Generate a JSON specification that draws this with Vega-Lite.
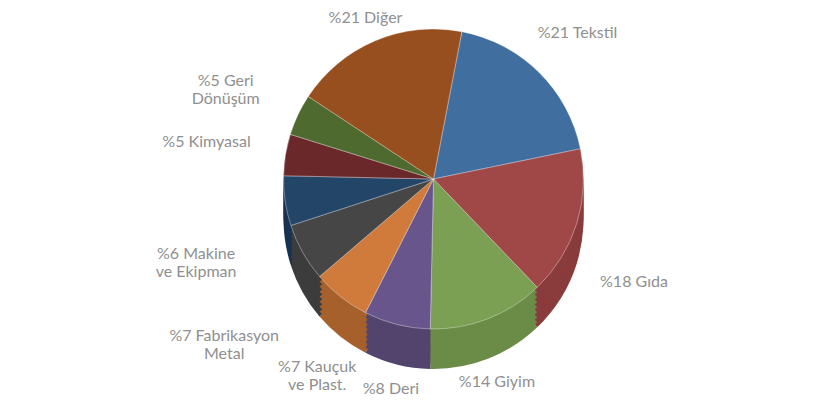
{
  "$schema": "https://vega.github.io/schema/vega-lite/v6.json",
  "width": 833,
  "height": 419,
  "autosize": {"type": "fit", "contains": "padding"},
  "padding": 0,
  "background": "white",
  "view": {"stroke": null},
  "data": {
    "values": [
      {"order": 1, "sektor": "Tekstil", "pay": 21, "label": "%21 Tekstil"},
      {"order": 2, "sektor": "Gıda", "pay": 18, "label": "%18 Gıda"},
      {"order": 3, "sektor": "Giyim", "pay": 14, "label": "%14 Giyim"},
      {"order": 4, "sektor": "Deri", "pay": 8, "label": "%8 Deri"},
      {"order": 5, "sektor": "Kauçuk ve Plast.", "pay": 7, "label": "%7 Kauçuk\nve Plast."},
      {"order": 6, "sektor": "Fabrikasyon Metal", "pay": 7, "label": "%7 Fabrikasyon\nMetal"},
      {"order": 7, "sektor": "Makine ve Ekipman", "pay": 6, "label": "%6 Makine\nve Ekipman"},
      {"order": 8, "sektor": "Kimyasal", "pay": 5, "label": "%5 Kimyasal"},
      {"order": 9, "sektor": "Geri Dönüşüm", "pay": 5, "label": "%5 Geri\nDönüşüm"},
      {"order": 10, "sektor": "Diğer", "pay": 21, "label": "%21 Diğer"}
    ]
  },
  "encoding": {
    "theta": {"field": "pay", "type": "quantitative", "stack": true, "scale": {"domain": [0, 112], "range": [0.19, 6.4732]}},
    "order": {"field": "order", "type": "quantitative"}
  },
  "layer": [
    {
      "layer": [
        {"mark": {"type": "arc", "radius": 150, "xOffset": 17, "yOffset": 5}},
        {"mark": {"type": "arc", "radius": 150, "xOffset": 17, "yOffset": 0}},
        {"mark": {"type": "arc", "radius": 150, "xOffset": 17, "yOffset": -5}},
        {"mark": {"type": "arc", "radius": 150, "xOffset": 17, "yOffset": -10}},
        {"mark": {"type": "arc", "radius": 150, "xOffset": 17, "yOffset": -15}},
        {"mark": {"type": "arc", "radius": 150, "xOffset": 17, "yOffset": -20}},
        {"mark": {"type": "arc", "radius": 150, "xOffset": 17, "yOffset": -25}},
        {"mark": {"type": "arc", "radius": 150, "xOffset": 17, "yOffset": -30}}
      ],
      "encoding": {
        "color": {
          "field": "sektor",
          "type": "nominal",
          "legend": null,
          "scale": {
            "domain": ["Tekstil", "Gıda", "Giyim", "Deri", "Kauçuk ve Plast.", "Fabrikasyon Metal", "Makine ve Ekipman", "Kimyasal", "Geri Dönüşüm", "Diğer"],
            "range": ["#325882", "#8A3B3B", "#6A8C47", "#52446D", "#A5602C", "#3C3C3C", "#183350", "#561F21", "#3F5625", "#7A3F18"]
          }
        }
      }
    },
    {
      "mark": {"type": "arc", "radius": 150, "xOffset": 17, "yOffset": -35, "stroke": "#ffffff", "strokeWidth": 0.6, "strokeOpacity": 0.6},
      "encoding": {
        "color": {
          "field": "sektor",
          "type": "nominal",
          "legend": null,
          "scale": {
            "domain": ["Tekstil", "Gıda", "Giyim", "Deri", "Kauçuk ve Plast.", "Fabrikasyon Metal", "Makine ve Ekipman", "Kimyasal", "Geri Dönüşüm", "Diğer"],
            "range": ["#3F6E9F", "#A04747", "#7BA053", "#67558B", "#D07B3C", "#464646", "#234567", "#6A282A", "#4F6A2F", "#984F1F"]
          }
        }
      }
    },
    {
      "mark": {"type": "text", "radius": 175, "xOffset": 17, "yOffset": -35, "align": "center", "baseline": "middle", "font": "Lato", "fontSize": 16, "lineBreak": "\n", "fill": "#8F8F8F"},
      "encoding": {"text": {"condition": {"test": "datum.sektor === 'Diğer'", "field": "label"}, "value": ""}}
    },
    {
      "mark": {"type": "text", "radius": 175, "xOffset": 17, "yOffset": 5, "align": "center", "baseline": "middle", "font": "Lato", "fontSize": 16, "lineBreak": "\n", "fill": "#8F8F8F"},
      "encoding": {"text": {"condition": {"test": "datum.sektor === 'Giyim' || datum.sektor === 'Deri'", "field": "label"}, "value": ""}}
    },
    {
      "mark": {"type": "text", "radius": 188, "xOffset": 17, "yOffset": 5, "align": "center", "baseline": "middle", "font": "Lato", "fontSize": 16, "lineBreak": "\n", "fill": "#8F8F8F"},
      "encoding": {"text": {"condition": {"test": "datum.sektor === 'Kauçuk ve Plast.'", "field": "label"}, "value": ""}}
    },
    {
      "mark": {"type": "text", "radius": 205, "xOffset": 17, "yOffset": -35, "align": "center", "baseline": "middle", "font": "Lato", "fontSize": 16, "lineBreak": "\n", "fill": "#8F8F8F"},
      "encoding": {"text": {"condition": {"test": "datum.sektor === 'Tekstil'", "field": "label"}, "value": ""}}
    },
    {
      "mark": {"type": "text", "radius": 210, "xOffset": 17, "yOffset": 5, "align": "center", "baseline": "middle", "font": "Lato", "fontSize": 16, "lineBreak": "\n", "fill": "#8F8F8F"},
      "encoding": {"text": {"condition": {"test": "datum.sektor === 'Gıda'", "field": "label"}, "value": ""}}
    },
    {
      "mark": {"type": "text", "radius": 230, "xOffset": 17, "yOffset": -35, "align": "center", "baseline": "middle", "font": "Lato", "fontSize": 16, "lineBreak": "\n", "fill": "#8F8F8F"},
      "encoding": {"text": {"condition": {"test": "datum.sektor === 'Kimyasal' || datum.sektor === 'Geri Dönüşüm'", "field": "label"}, "value": ""}}
    },
    {
      "mark": {"type": "text", "radius": 240, "xOffset": 17, "yOffset": 5, "align": "center", "baseline": "middle", "font": "Lato", "fontSize": 16, "lineBreak": "\n", "fill": "#8F8F8F"},
      "encoding": {"text": {"condition": {"test": "datum.sektor === 'Makine ve Ekipman' || datum.sektor === 'Fabrikasyon Metal'", "field": "label"}, "value": ""}}
    }
  ],
  "resolve": {"scale": {"color": "independent"}}
}
